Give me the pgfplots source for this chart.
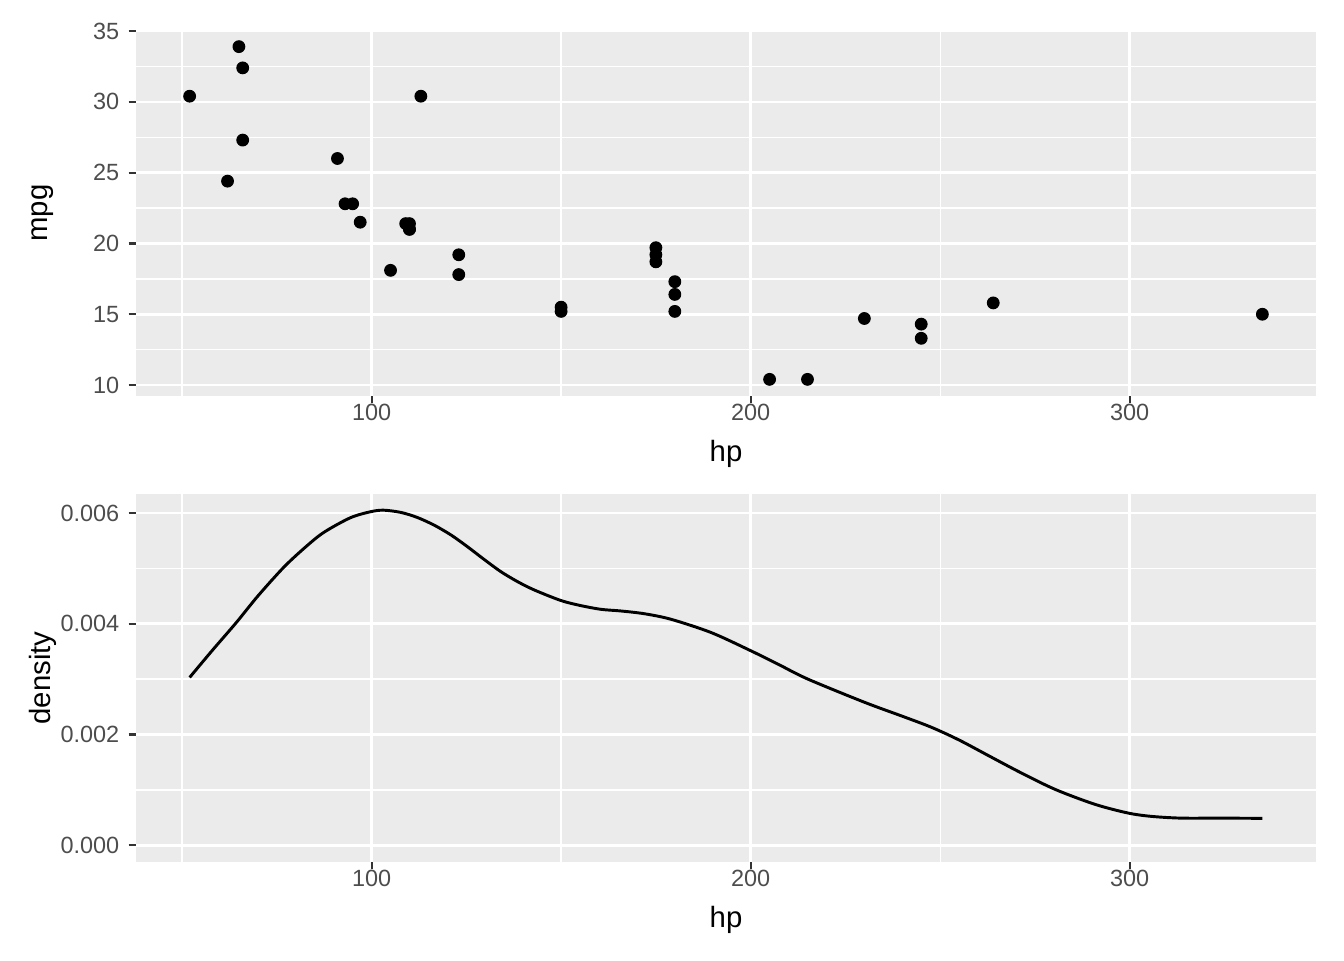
\documentclass[border=0pt]{standalone}
\usepackage{fontspec}
\setmainfont{Liberation Sans}
\usepackage{pgfplots}
\pgfplotsset{compat=1.18}
\definecolor{panel}{HTML}{EBEBEB}
\definecolor{tickcol}{HTML}{333333}
\definecolor{labcol}{HTML}{4D4D4D}

% ggplot-like panel
\pgfplotsset{gg/.style={
	scale only axis, width=442.5pt,
	axis background/.style={fill=panel},
	axis line style={draw=none},
	grid=both,
	major grid style={white, line width=1pt},
	minor grid style={white, line width=0.5pt},
	tick align=outside, tick pos=left,
	major tick length=2.75pt, minor tick length=0pt,
	tick style={tickcol, line width=0.8pt},
	tick label style={font=\fontsize{8.8}{10}\selectfont, text=labcol},
	xticklabel style={yshift=3.2pt},
	/pgf/number format/assume math mode=true,
	label style={font=\fontsize{11}{13}\selectfont, text=black},
	xmin=37.85, xmax=349.15,
	xtick={100,200,300}, minor xtick={50,150,250},
	xlabel={hp},
	xlabel style={at={(axis description cs:0.5,0)}, anchor=center, yshift=-21.8pt},
	ylabel style={at={(axis description cs:-0.079,0.5)}, anchor=center},
}}

\pgfplotstableread{
hp mpg
110 21.0
110 21.0
93 22.8
110 21.4
175 18.7
105 18.1
245 14.3
62 24.4
95 22.8
123 19.2
123 17.8
180 16.4
180 17.3
180 15.2
205 10.4
215 10.4
230 14.7
66 32.4
52 30.4
65 33.9
97 21.5
150 15.5
150 15.2
245 13.3
175 19.2
66 27.3
91 26.0
113 30.4
264 15.8
175 19.7
335 15.0
109 21.4
}\cars

\begin{document}
\begin{tikzpicture}
\path[use as bounding box] (0,0) rectangle (504pt,360pt);
\begin{axis}[gg, at={(51pt,348.75pt)}, anchor=north west, height=137.25pt,
	ymin=9.225, ymax=35.075,
	ytick={10,15,20,25,30,35}, minor ytick={12.5,17.5,22.5,27.5,32.5},
	ylabel={mpg}]
	\addplot[only marks, mark=*, mark size=2.2pt, black] table[x=hp, y=mpg] {\cars};
\end{axis}
\begin{axis}[gg, at={(51pt,174.75pt)}, anchor=north west, height=138pt,
	ymin=-0.000302, ymax=0.006342,
	ytick={0,0.002,0.004,0.006}, minor ytick={0.001,0.003,0.005},
	scaled y ticks=false,
	yticklabel style={/pgf/number format/fixed, /pgf/number format/fixed zerofill,
		/pgf/number format/precision=3},
	ylabel={density}]
	\addplot[smooth, tension=0.5, black, line width=1.1pt] coordinates {
		(52,0.00303) (58,0.00352) (64.3,0.00402) (70,0.00450) (76.7,0.00501)
		(82,0.00535) (87.2,0.00564) (94.3,0.00591) (99.6,0.00602) (103.1,0.00605)
		(107.7,0.00601) (112,0.00592) (116.5,0.00578) (121,0.00560)
		(125.3,0.00539) (129.7,0.00516) (134.1,0.00494) (138.5,0.00476)
		(142.9,0.00461) (149.9,0.00442) (155,0.00433) (160.5,0.00426)
		(165.8,0.00423) (172,0.00418) (179,0.00408) (189.6,0.00384)
		(200.1,0.00351) (207.5,0.00326) (215.1,0.00300) (230.1,0.00258)
		(240,0.00233) (247.7,0.00213) (255,0.00190) (262.7,0.00162)
		(271,0.00132) (280.3,0.00101) (290.8,0.00074) (299.7,0.00058)
		(306,0.00052) (313.7,0.00049) (324.3,0.00049) (335,0.000486)};
\end{axis}
\end{tikzpicture}
\end{document}
